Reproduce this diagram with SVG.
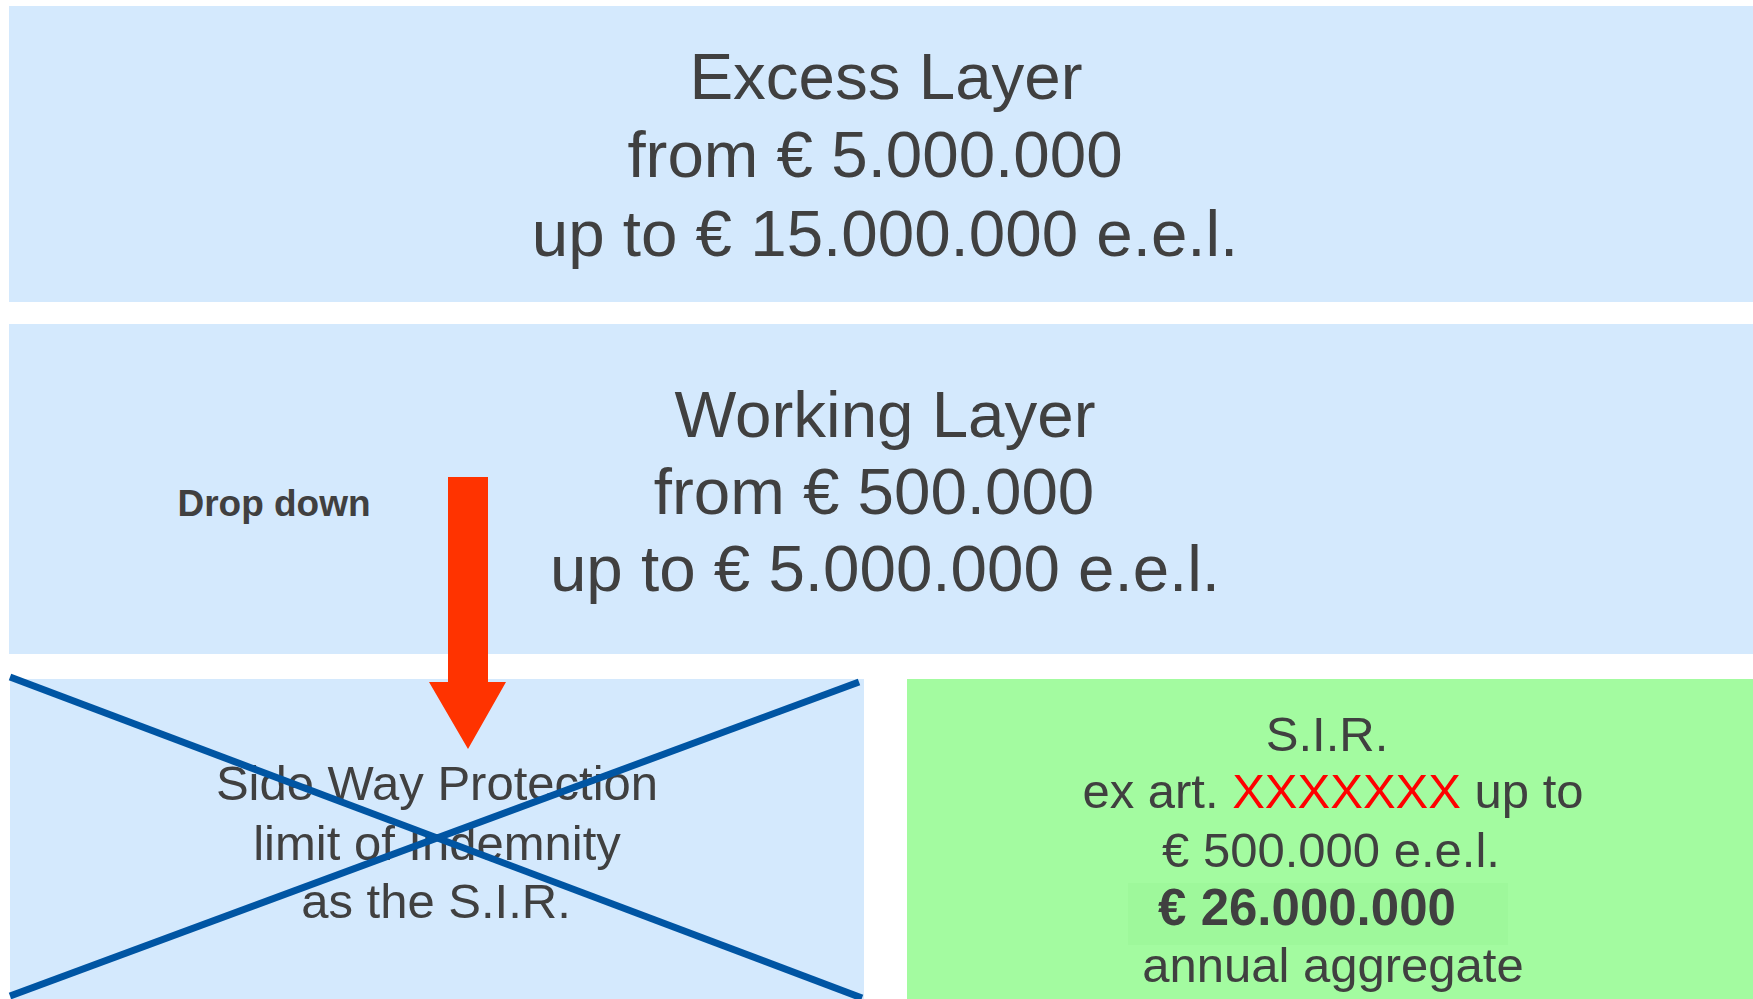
<svg xmlns="http://www.w3.org/2000/svg" width="1753" height="999" viewBox="0 0 1753 999">
<style>
.layer{fill:#d4e9fd}
.sir{fill:#a3fba0}
.t{font-family:"Liberation Sans",Arial,sans-serif;fill:#404040;text-anchor:middle}
.big{font-size:65.5px}
.mid{font-size:49px}
.cross{stroke:#0055a3;stroke-width:7;stroke-linecap:butt}
</style>
<rect width="1753" height="999" fill="#ffffff"/>
<g id="excess-layer">
<rect class="layer" x="9" y="6" width="1744" height="296"/>
<text class="t big" x="886" y="99">Excess Layer</text>
<text class="t big" x="875" y="177">from € 5.000.000</text>
<text class="t big" x="885" y="256">up to € 15.000.000 e.e.l.</text>
</g>
<g id="working-layer">
<rect class="layer" x="9" y="324" width="1744" height="330"/>
<text class="t big" x="885" y="437">Working Layer</text>
<text class="t big" x="874" y="514">from € 500.000</text>
<text class="t big" x="885" y="591">up to € 5.000.000 e.e.l.</text>
<text class="t" x="274" y="516" font-size="37" font-weight="bold">Drop down</text>
</g>
<g id="side-way-protection">
<rect class="layer" x="10" y="679" width="854" height="320"/>
<text class="t mid" x="437" y="800">Side Way Protection</text>
<text class="t mid" x="437" y="860">limit of Indemnity</text>
<text class="t mid" x="436" y="918">as the S.I.R.</text>
<line class="cross" x1="10" y1="677" x2="862" y2="998"/>
<line class="cross" x1="10" y1="996" x2="859" y2="682"/>
</g>
<g id="sir">
<rect class="sir" x="907" y="679" width="846" height="320"/>
<rect x="1128" y="883" width="380" height="62" fill="#9ef89b"/>
<text class="t mid" x="1327" y="751">S.I.R.</text>
<text class="t mid" x="1333" y="808">ex art. <tspan fill="#ff0000">XXXXXXX</tspan> up to</text>
<text class="t mid" x="1331" y="867">€ 500.000 e.e.l.</text>
<text class="t" x="1307" y="925" font-size="51" font-weight="bold" fill="#505050">€ 26.000.000</text>
<text class="t mid" x="1333" y="982">annual aggregate</text>
</g>
<g id="connectors">
<path d="M448,477 H488 V682 H506 L468,749 L429,682 H448 Z" fill="#ff3300"/>
</g>
</svg>
